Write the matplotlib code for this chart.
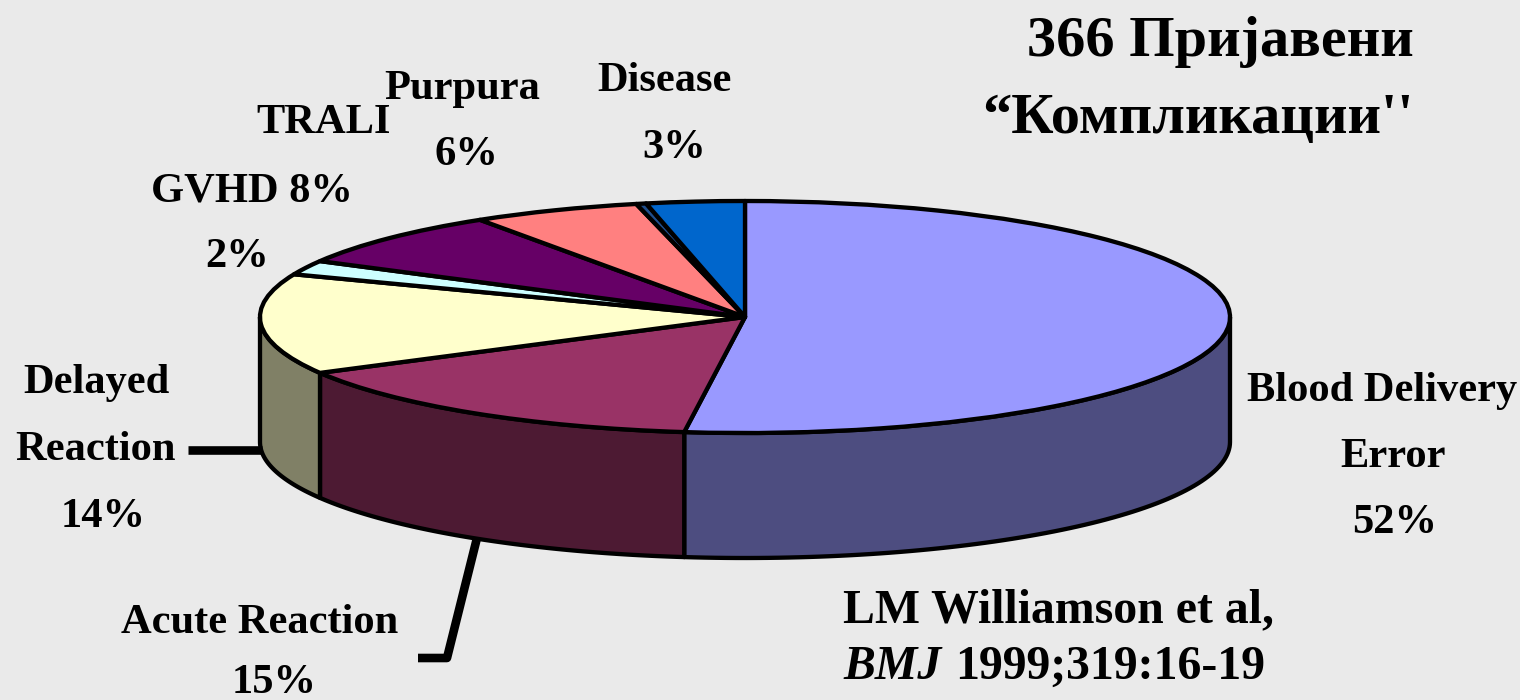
import numpy as np
import matplotlib
matplotlib.use("Agg")
import matplotlib.pyplot as plt
from matplotlib.lines import Line2D
from matplotlib.patches import Polygon

W, H = 1520, 700
BG = "#EAEAEA"

# Share of the pie (clockwise from 12 o'clock).
slice_names = ["Blood Delivery Error", "Acute Reaction", "Delayed Reaction", "TRALI-2",
               "GVHD", "Purpura", "gap", "Disease"]
slice_shares = [52, 15, 14, 2, 7.8, 5.6, 0.33, 3.27]
top_colors = ["#9999FF", "#993366", "#FFFFCC", "#CCFFFF", "#660066", "#FF8080", "#1F4E8C", "#0066CC"]
wall_colors = ["#4D4D80", "#4D1A33", "#808066", "#666680", "#330033", "#804040", "#102848", "#003366"]

title_lines = ["366 Пријавени", "“Компликации''"]
label_lines = ["Blood Delivery", "Error", "52%", "Disease", "3%", "Purpura", "6%", "TRALI",
               "GVHD 8%", "2%", "Delayed", "Reaction", "14%", "Acute Reaction", "15%"]
label_xy = [(1382, 391), (1393, 457), (1395, 523), (664, 81), (674, 148), (462, 89), (466, 155),
            (324, 123), (252, 191), (237, 257), (96, 383), (95, 450), (103, 517), (260, 623), (274, 683)]

CX, CY, RX, RY, DEPTH = 745, 317, 485, 116, 125
EDGE = 3.1

fig = plt.figure(figsize=(W / 100, H / 100), dpi=100, facecolor=BG)
ax = fig.add_axes([0, 0, 1, 1])
serif = "Liberation Serif"


def px(x, y):
    return x / W, 1 - y / H


# Walls: built from the shares, front half of the pie only.
shares = np.array(slice_shares, dtype=float)
ends = np.cumsum(shares) * 3.6
starts = ends - shares * 3.6
d = DEPTH / RY
for a0, a1, col in zip(starts, ends, wall_colors):
    lo, hi = max(a0, 90), min(a1, 270)
    if lo >= hi:
        continue
    t = np.radians(np.linspace(lo, hi, 80))
    xs, ys = np.sin(t), np.cos(t)
    pts = np.r_[np.c_[xs, ys], np.c_[xs[::-1], ys[::-1] - d]]
    ax.add_patch(Polygon(pts, closed=True, facecolor=col, edgecolor="black", lw=EDGE,
                         joinstyle="round", zorder=1))

# Top face
wedges, _ = ax.pie(slice_shares, colors=top_colors, startangle=90, counterclock=False, radius=1,
                   wedgeprops=dict(edgecolor="black", linewidth=EDGE, joinstyle="round", zorder=2))
ax.set_aspect("auto")
ax.set_xlim(-CX / RX, (W - CX) / RX)
ax.set_ylim((CY - H) / RY, CY / RY)
ax.axis("off")

# Leader lines
for xs, ys in [((188, 262), (450, 450)), ((477, 447, 418), (538, 658, 658))]:
    fx, fy = zip(*[px(x, y) for x, y in zip(xs, ys)])
    fig.add_artist(Line2D(fx, fy, color="black", lw=6.2, solid_joinstyle="round",
                          solid_capstyle="butt", transform=fig.transFigure))

for text, (x, y) in zip(label_lines, label_xy):
    fig.text(*px(x, y), text, family=serif, weight="bold", fontsize=30.6, ha="center", va="center")

fig.text(*px(1220, 42), title_lines[0], family=serif, weight="bold", fontsize=42, ha="center", va="center")
fig.text(*px(1198, 119), title_lines[1], family=serif, weight="bold", fontsize=42, ha="center", va="center")

fig.text(*px(843, 610), "LM Williamson et al,", family=serif, weight="bold", fontsize=34.4, ha="left", va="center")
fig.text(*px(843, 667), "BMJ", family=serif, weight="bold", style="italic", fontsize=34.4, ha="left", va="center")
fig.text(*px(955, 667), "1999;319:16-19", family=serif, weight="bold", fontsize=34.4, ha="left", va="center")

fig.savefig("out.png", dpi=100, facecolor=BG)
